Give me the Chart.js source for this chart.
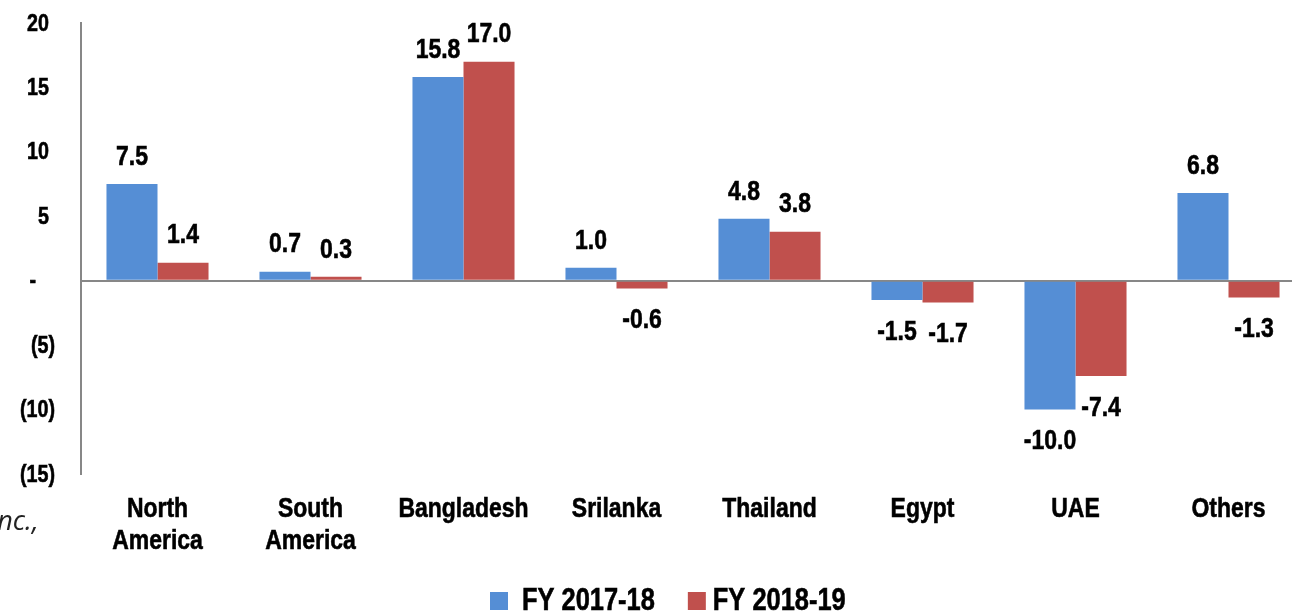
<!DOCTYPE html>
<html>
<head>
<meta charset="utf-8">
<script src="https://cdn.jsdelivr.net/npm/chart.js@4.4.1/dist/chart.umd.min.js"></script>
<style>
  html, body { margin: 0; padding: 0; background: #fff; overflow: hidden; }
  #wrap { position: relative; width: 1292px; height: 614px; overflow: hidden; }
  #c { position: absolute; left: 0; top: 0; }
  #note { position: absolute; left: -10px; top: 501px; font: italic 27px "Open Sans", "Liberation Sans", sans-serif; color: #222; }
</style>
</head>
<body>
<div id="wrap">
  <canvas id="c" width="1305" height="614"></canvas>
  <div id="note">Inc.,</div>
</div>
<script>
const categories = [["North", "America"], ["South", "America"], "Bangladesh", "Srilanka", "Thailand", "Egypt", "UAE", "Others"];
const seriesNames = ["FY 2017-18", "FY 2018-19"];
const fy2017 = [7.5, 0.7, 15.8, 1.0, 4.8, -1.5, -10.0, 6.8];
const fy2018 = [1.4, 0.3, 17.0, -0.6, 3.8, -1.7, -7.4, -1.3];
const yTicks = [20, 15, 10, 5, 0, -5, -10, -15];
const colors = ['#558ED5', '#C0504D'];

const FONT = '"Liberation Sans", Arial, sans-serif';
const SX = 0.82; // narrow (condensed) look

function drawText(ctx, s, x, y, align, size) {
  ctx.save();
  ctx.font = 'bold ' + size + 'px ' + FONT;
  ctx.fillStyle = '#000';
  ctx.strokeStyle = '#000';
  ctx.lineWidth = 0.6;
  ctx.textBaseline = 'middle';
  ctx.textAlign = align;
  ctx.translate(x, y);
  ctx.scale(SX, 1);
  ctx.fillText(s, 0, 0);
  ctx.strokeText(s, 0, 0);
  ctx.restore();
}
function textWidth(ctx, s, size) {
  ctx.save();
  ctx.font = 'bold ' + size + 'px ' + FONT;
  const w = ctx.measureText(s).width * SX;
  ctx.restore();
  return w;
}

const textPlugin = {
  id: 'narrowText',
  afterDraw(chart) {
    const ctx = chart.ctx;
    const ys = chart.scales.y, xs = chart.scales.x;
    // y tick labels (accounting style)
    yTicks.forEach(v => {
      const py = ys.getPixelForValue(v) + 1;
      if (v === 0) drawText(ctx, '-', 36, py, 'right', 24);
      else if (v < 0) drawText(ctx, '(' + Math.abs(v) + ')', 55, py, 'right', 24);
      else drawText(ctx, String(v), 49, py, 'right', 24);
    });
    // x category labels
    categories.forEach((c, i) => {
      const px = xs.getPixelForValue(i);
      const lines = Array.isArray(c) ? c : [c];
      lines.forEach((l, k) => drawText(ctx, l, px, 509 + k * 32, 'center', 28));
    });
    // value labels
    chart.data.datasets.forEach((ds, i) => {
      const meta = chart.getDatasetMeta(i);
      meta.data.forEach((bar, j) => {
        const v = ds.data[j];
        const y = v >= 0 ? bar.y - 27 : bar.y + 32;
        drawText(ctx, v.toFixed(1), bar.x, y, 'center', 28);
      });
    });
    // legend
    let x = 490;
    const ly = 601;
    seriesNames.forEach((n, i) => {
      ctx.fillStyle = colors[i];
      ctx.fillRect(x, ly - 9, 18, 18);
      x += 18 + (i === 0 ? 14 : 7);
      drawText(ctx, n, x, ly, 'left', 31);
      x += textWidth(ctx, n, 31) + 33;
    });
  }
};

new Chart(document.getElementById('c'), {
  type: 'bar',
  data: {
    labels: categories,
    datasets: [
      { label: seriesNames[0], data: fy2017, backgroundColor: colors[0], borderWidth: 0 },
      { label: seriesNames[1], data: fy2018, backgroundColor: colors[1], borderWidth: 0 }
    ]
  },
  options: {
    responsive: false,
    animation: false,
    layout: { padding: { top: 23, right: 0, left: 0, bottom: 0 } },
    datasets: { bar: { categoryPercentage: 0.667, barPercentage: 1.0 } },
    plugins: {
      tooltip: { enabled: false },
      legend: { display: false }
    },
    scales: {
      x: {
        grid: { display: false, drawTicks: false },
        border: { display: false },
        ticks: { display: false },
        afterFit(s) { s.height = 140; }
      },
      y: {
        min: -15, max: 20,
        afterBuildTicks(s) { s.ticks = yTicks.map(v => ({ value: v })); },
        grid: {
          drawTicks: false,
          color: c => (c.tick && c.tick.value === 0) ? '#878787' : 'rgba(0,0,0,0)',
          lineWidth: 2
        },
        border: { display: true, color: '#878787', width: 2 },
        ticks: { display: false },
        afterFit(s) { s.width = 81; }
      }
    }
  },
  plugins: [textPlugin]
});
</script>
</body>
</html>
